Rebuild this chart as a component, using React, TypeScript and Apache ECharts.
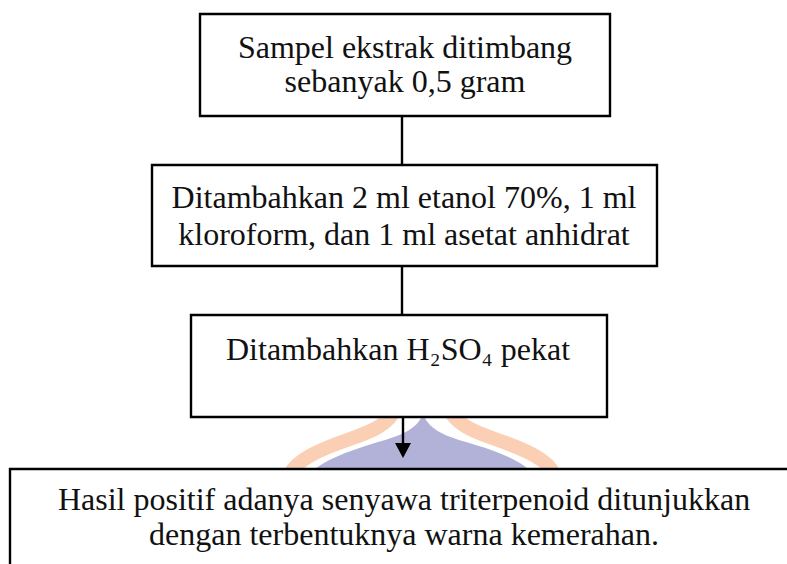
import React, { useEffect, useRef } from "react";
import * as echarts from "echarts";

// ---- Flowchart content ----
const box1Lines = ["Sampel ekstrak ditimbang", "sebanyak 0,5 gram"];
const box2Lines = ["Ditambahkan 2 ml etanol 70%, 1 ml", "kloroform, dan 1 ml asetat anhidrat"];
const box3Lines = ["Ditambahkan H₂SO₄ pekat"];
const box4Lines = [
  "Hasil positif adanya senyawa triterpenoid ditunjukkan",
  "dengan terbentuknya warna kemerahan.",
];

const FONT = '32px "Liberation Serif", "Times New Roman", serif';
const TEXT_COLOR = "#111111";

// watermark shapes (decorative background)
const domePath =
  "M423,414 C429,429 442,435 466,442 C500,452 522,461 533,474 L309,474 C322,461 345,452 378,442 C403,435 417,429 423,414 Z";
const leftArcPath = "M396,408 C389,424 373,431 350,439 C318,450 297,460 290,474";
const rightArcPath = "M448,408 C456,424 472,431 495,439 C527,450 548,460 554,474";

echarts.graphic.registerShape("dome", echarts.graphic.extendPath(domePath, {}) as any);
echarts.graphic.registerShape("arcL", echarts.graphic.extendPath(leftArcPath, {}) as any);
echarts.graphic.registerShape("arcR", echarts.graphic.extendPath(rightArcPath, {}) as any);

function textEl(text: string, x: number, y: number) {
  return {
    type: "text",
    x,
    y,
    z: 10,
    style: {
      text,
      font: FONT,
      fill: TEXT_COLOR,
      textAlign: "center",
      textVerticalAlign: "middle",
      align: "center",
      verticalAlign: "middle",
    },
  };
}

function boxEl(x: number, y: number, w: number, h: number) {
  return {
    type: "rect",
    z: 5,
    shape: { x, y, width: w, height: h },
    style: { fill: "#ffffff", stroke: "#000000", lineWidth: 2.4 },
  };
}

function lineEl(x: number, y1: number, y2: number) {
  return {
    type: "line",
    z: 6,
    shape: { x1: x, y1, x2: x, y2 },
    style: { stroke: "#000000", lineWidth: 2.4 },
  };
}

export default function App() {
  const ref = useRef<HTMLDivElement>(null);
  useEffect(() => {
    if (!ref.current) return;
    const chart = echarts.init(ref.current, null, { renderer: "svg" });
    const cx = 402;
    const elements: any[] = [
      // watermark
      { type: "arcL", z: 1, x: 0, y: 0, style: { fill: "none", stroke: "#fbcfb4", lineWidth: 14 } },
      { type: "arcR", z: 1, x: 0, y: 0, style: { fill: "none", stroke: "#fbcfb4", lineWidth: 14 } },
      { type: "dome", z: 1, x: 0, y: 0, style: { fill: "#b2b2d9", stroke: "none" } },
      // boxes
      boxEl(200, 14, 410, 102),
      boxEl(152, 165, 505, 101),
      boxEl(191, 315, 416, 102),
      boxEl(10, 469, 787, 140),
      // connectors
      lineEl(cx, 116, 165),
      lineEl(cx, 266, 315),
      lineEl(cx + 1, 417, 445),
      {
        type: "polygon",
        z: 6,
        shape: { points: [[cx - 7, 443], [cx + 9, 443], [cx + 1, 458]] },
        style: { fill: "#000000" },
      },
    ];
    box1Lines.forEach((t, i) => elements.push(textEl(t, 405, 47 + i * 34)));
    box2Lines.forEach((t, i) => elements.push(textEl(t, 404, 197 + i * 37)));
    box3Lines.forEach((t, i) => elements.push(textEl(t, 398, 349 + i * 37)));
    box4Lines.forEach((t, i) => elements.push(textEl(t, 404, 499 + i * 35)));

    chart.setOption({
      animation: false,
      backgroundColor: "#ffffff",
      graphic: { elements },
    });
    return () => chart.dispose();
  }, []);
  return (
    <div
      ref={ref}
      style={{ position: "fixed", left: 0, top: 0, width: 787, height: 564, background: "#fff" }}
    />
  );
}
